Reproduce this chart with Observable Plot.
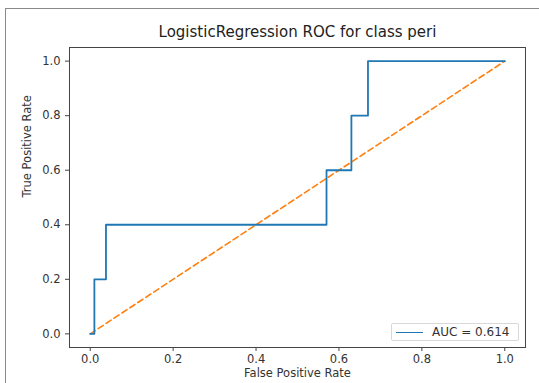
<!DOCTYPE html>
<html><head><meta charset="utf-8">
<script src="https://cdn.jsdelivr.net/npm/d3@7"></script>
<script src="https://cdn.jsdelivr.net/npm/@observablehq/plot@0.6"></script>
<style>
body{margin:0;background:#fff;font-family:"DejaVu Sans",sans-serif;}
#wrap{position:relative;width:539px;height:383px;overflow:hidden;}
#border{position:absolute;left:5px;top:8px;right:-10px;bottom:-10px;border-left:1.5px solid #8a8a8a;border-top:1.5px solid #8a8a8a;pointer-events:none;}
#legend{position:absolute;left:391px;top:323px;width:128px;height:18px;border:1px solid #d8d8d8;border-radius:2px;background:#fff;font-size:12px;color:#333;box-sizing:border-box;}
#legend .ln{position:absolute;left:4px;top:8px;width:27px;height:0;border-top:1.5px solid #1f77b4;}
#legend .tx{position:absolute;left:40px;top:1px;line-height:15px;white-space:nowrap;}
</style></head>
<body><div id="wrap"><div id="chart"></div><div id="border"></div>
<div id="legend"><div class="ln"></div><div class="tx" id="legtext"></div></div></div>
<script>
const title = "LogisticRegression ROC for class peri";
const xLabel = "False Positive Rate";
const yLabel = "True Positive Rate";
const aucLabel = "AUC = 0.614";
const fpr = [0, 0.01, 0.01, 0.038, 0.038, 0.57, 0.57, 0.63, 0.63, 0.67, 0.67, 1.0];
const tpr = [0, 0, 0.2, 0.2, 0.4, 0.4, 0.6, 0.6, 0.8, 0.8, 1.0, 1.0];
const diagX = [0, 1];
const diagY = [0, 1];
const ticks = [0, 0.2, 0.4, 0.6, 0.8, 1.0];

const roc = fpr.map((f, i) => ({x: f, y: tpr[i]}));
const diag = diagX.map((d, i) => ({x: d, y: diagY[i]}));

const plot = Plot.plot({
  width: 539, height: 383,
  marginLeft: 69, marginRight: 14, marginTop: 47, marginBottom: 36,
  style: {fontFamily: "DejaVu Sans, sans-serif", fontSize: "11px", color: "#333", background: "transparent", overflow: "visible"},
  x: {domain: [-0.05, 1.05], ticks: ticks, tickFormat: d3.format(".1f"), label: null},
  y: {domain: [-0.05, 1.05], ticks: ticks, tickFormat: d3.format(".1f"), label: null},
  marks: [
    Plot.axisX({ticks: ticks, tickFormat: d3.format(".1f"), tickSize: 4, tickPadding: 3, label: null, stroke: "#444", fontSize: 11.5}),
    Plot.axisY({ticks: ticks, tickFormat: d3.format(".1f"), tickSize: 4, tickPadding: 5, label: null, stroke: "#444", fontSize: 11.5}),
    Plot.line(diag, {x: "x", y: "y", stroke: "#ff7f0e", strokeWidth: 1.6, strokeDasharray: "6,3.5"}),
    Plot.line(roc, {x: "x", y: "y", stroke: "#1f77b4", strokeWidth: 1.8}),
    Plot.frame({stroke: "#444", strokeWidth: 1}),
    Plot.text([title], {frameAnchor: "top", dy: -21, fontSize: 15, fill: "#222", text: d => d}),
    Plot.text([xLabel], {frameAnchor: "bottom", dy: 29, fontSize: 11.5, fill: "#333", text: d => d}),
    Plot.text([yLabel], {frameAnchor: "left", dx: -42, rotate: -90, fontSize: 11.5, fill: "#333", text: d => d})
  ]
});
document.getElementById("chart").appendChild(plot);
document.getElementById("legtext").textContent = aucLabel;
</script></body></html>
